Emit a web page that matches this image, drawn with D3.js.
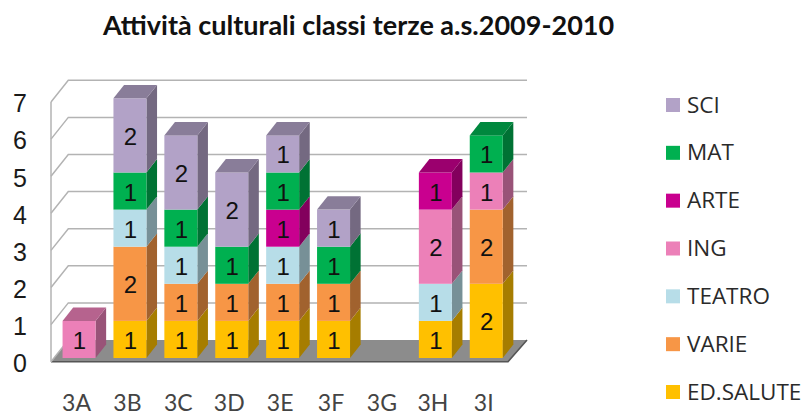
<!DOCTYPE html>
<html><head><meta charset="utf-8">
<script src="https://cdn.jsdelivr.net/npm/d3@7/dist/d3.min.js"></script>
<style>html,body{margin:0;background:#fff}svg{display:block}</style></head>
<body><svg id="c" width="808" height="416"></svg>
<script>
const titleText = "Attività culturali classi terze a.s.2009-2010";
const categories = ["3A","3B","3C","3D","3E","3F","3G","3H","3I"];
const yTicks = [0,1,2,3,4,5,6,7];
const seriesNames = ["ED.SALUTE","VARIE","TEATRO","ING","ARTE","MAT","SCI"];
const edSalute = [0,1,1,1,1,1,0,1,2];
const varie    = [0,2,1,1,1,1,0,0,2];
const teatro   = [0,1,1,0,1,0,0,1,0];
const ing      = [1,0,0,0,0,0,0,2,1];
const arte     = [0,0,0,0,1,0,0,1,0];
const mat      = [0,1,1,1,1,1,0,0,1];
const sci      = [0,2,2,2,1,1,0,0,0];
const seriesColors = ["#ffc000","#f79646","#b7dde8","#ec80b8","#c9008f","#00b050","#b2a2c7"];

const svg = d3.select("#c");
const y = d3.scaleLinear().domain([0,7]).range([358,98.3]);
const x = d3.scaleBand().domain(categories).range([53.6,511.7]).paddingInner(0.352).paddingOuter(0.176);
const dx = 10.6, dy = -13.4;
const floorL = 51, floorR = 508, backL = 68.3, backR = 527;
const wallDown = 3.7, backUp = -18;

const rows = categories.map((c,i)=>({cat:c,"ED.SALUTE":edSalute[i],"VARIE":varie[i],"TEATRO":teatro[i],"ING":ing[i],"ARTE":arte[i],"MAT":mat[i],"SCI":sci[i]}));
const stacked = d3.stack().keys(seriesNames)(rows);
const color = d3.scaleOrdinal(seriesNames, seriesColors);

// floor
const line = d3.line();
svg.append("path").attr("d", line([[floorL,y(0)+wallDown],[floorR,y(0)+wallDown],[backR,y(0)+backUp],[backL,y(0)+backUp]])+"Z").attr("fill","#8c8c8c");
svg.append("path").attr("d", line([[floorL,y(0)+wallDown],[floorR,y(0)+wallDown],[backR,y(0)+backUp]])).attr("fill","none").attr("stroke","#555").attr("stroke-width",1.6);

// gridlines
const grid = svg.append("g").attr("fill","none").attr("stroke","#b3b3b3").attr("stroke-width",1.5);
yTicks.forEach(t=>{
  if(t>0) grid.append("path").attr("d", line([[floorL,y(t)+wallDown],[backL,y(t)+backUp],[backR,y(t)+backUp]]));
});
svg.append("path").attr("d", line([[backL,y(0)+backUp],[floorL,y(0)+wallDown]])).attr("fill","none").attr("stroke","#b3b3b3").attr("stroke-width",1.5);
svg.append("line").attr("x1",floorL).attr("x2",floorL).attr("y1",y(7)+wallDown).attr("y2",y(0)+wallDown).attr("stroke","#b3b3b3").attr("stroke-width",1.5);

// bars, drawn left to right and bottom to top
const bars = svg.append("g");
categories.forEach((c,i)=>{
  const bx = x(c), bw = x.bandwidth();
  const segs = stacked.map(s=>({key:s.key,v0:s[i][0],v1:s[i][1]})).filter(d=>d.v1>d.v0);
  segs.forEach((d,j)=>{
    const col = d3.color(color(d.key));
    const yt = y(d.v1), yb = y(d.v0);
    const side = d3.rgb(col.r*0.65,col.g*0.65,col.b*0.65);
    bars.append("path").attr("d", line([[bx+bw,yb],[bx+bw+dx,yb+dy],[bx+bw+dx,yt+dy],[bx+bw,yt]])+"Z").attr("fill",side);
    bars.append("rect").attr("x",bx).attr("y",yt).attr("width",bw).attr("height",yb-yt).attr("fill",col);
    if(j===segs.length-1){
      const top = d3.rgb(col.r*0.77,col.g*0.77,col.b*0.77);
      bars.append("path").attr("d", line([[bx,yt],[bx+dx,yt+dy],[bx+bw+dx,yt+dy],[bx+bw,yt]])+"Z").attr("fill",top);
    }
  });
  segs.forEach(d=>{
    bars.append("text").text(d.v1-d.v0).attr("x",bx+bw/2+0.5).attr("y",(y(d.v0)+y(d.v1))/2+9.5)
      .attr("text-anchor","middle").attr("font-family","Liberation Sans").attr("font-size",24).attr("fill","#111");
  });
});

// y tick labels
svg.append("g").selectAll("text").data(yTicks).join("text").text(d=>d)
  .attr("x",20).attr("y",d=>y(d)+14).attr("text-anchor","middle")
  .attr("font-family","Liberation Sans").attr("font-size",25).attr("fill","#1a1a1a");

// x labels
svg.append("g").selectAll("text").data(categories).join("text").text(d=>d)
  .attr("x",d=>x(d)+x.bandwidth()/2-2.5).attr("y",411).attr("text-anchor","middle")
  .attr("font-family","Lato").attr("font-size",23).attr("fill","#444");

// legend
const legendY = d3.scalePoint().domain(seriesNames).range([392,105]);
const leg = svg.append("g").selectAll("g").data(seriesNames).join("g").attr("transform",d=>`translate(666,${legendY(d)})`);
leg.append("rect").attr("x",0).attr("y",-7).attr("width",14).attr("height",14).attr("fill",d=>color(d));
leg.append("text").text(d=>d).attr("x",21).attr("y",7.5).attr("font-family","Open Sans").attr("font-size",22.5).attr("fill","#2a2a2a");

// title
svg.append("text").text(titleText).attr("x",358.5).attr("y",34.5).attr("text-anchor","middle")
  .attr("font-family","Lato").attr("font-weight",700).attr("font-size",27).attr("fill","#111");
</script></body></html>
